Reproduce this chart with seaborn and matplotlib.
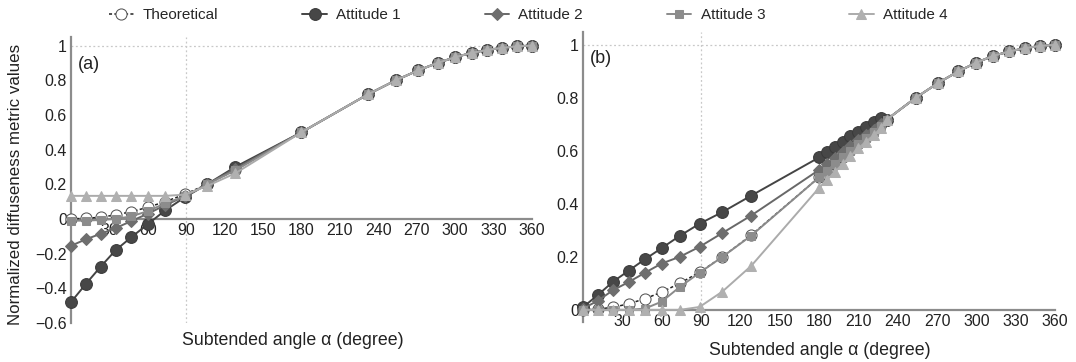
import numpy as np
import pandas as pd
import matplotlib
matplotlib.use("Agg")
import matplotlib.pyplot as plt
import seaborn as sns

# ---------------------------------------------------------------
# Data
# ---------------------------------------------------------------
# angles shared by both panels (deg)
ANG_LEFT = [0, 11.5, 23.1, 34.9, 47.2, 60, 73.7, 88.9, 106.3, 128.3, 180]
ANG_RIGHT = [231.7, 253.7, 271.1, 286.3, 300, 312.8, 325.1, 336.9, 348.5, 360]
# extra dense angles only sampled in panel (b)
ANG_DENSE = [186, 192, 198, 204, 210, 216, 222, 227]

# right-hand tail is the same for every series
TAIL = [0.718, 0.80, 0.857, 0.90, 0.933, 0.958, 0.975, 0.987, 0.996, 1.0]

# panel (a)
A_THEO = [0, 0.003, 0.01, 0.023, 0.042, 0.067, 0.10, 0.142, 0.20, 0.282, 0.50]
A_ATT1 = [-0.48, -0.376, -0.276, -0.18, -0.105, -0.03, 0.05, 0.125, 0.20, 0.30, 0.50]
A_ATT2 = [-0.155, -0.118, -0.086, -0.053, -0.012, 0.03, 0.08, 0.13, 0.20, 0.29, 0.50]
A_ATT3 = [-0.01, -0.01, -0.006, 0.0, 0.015, 0.045, 0.09, 0.13, 0.20, 0.28, 0.50]
A_ATT4 = [0.133, 0.133, 0.133, 0.133, 0.133, 0.133, 0.133, 0.14, 0.19, 0.263, 0.50]

# panel (b): left part, dense part, then tail
B_THEO = [0, 0.003, 0.01, 0.023, 0.042, 0.067, 0.10, 0.142, 0.20, 0.282, 0.50]
B_THEO_D = [0.526, 0.552, 0.578, 0.604, 0.629, 0.654, 0.679, 0.70]
B_ATT1 = [0.01, 0.057, 0.107, 0.148, 0.191, 0.233, 0.279, 0.325, 0.369, 0.431, 0.575]
B_ATT1_D = [0.595, 0.615, 0.635, 0.655, 0.672, 0.69, 0.708, 0.725]
B_ATT2 = [0.005, 0.035, 0.075, 0.105, 0.14, 0.175, 0.20, 0.238, 0.29, 0.356, 0.528]
B_ATT2_D = [0.55, 0.572, 0.595, 0.617, 0.64, 0.66, 0.68, 0.70]
B_ATT3 = [0.0, 0.0, 0.0, 0.0, 0.005, 0.031, 0.086, 0.14, 0.20, 0.28, 0.50]
B_ATT3_D = [0.525, 0.55, 0.575, 0.60, 0.625, 0.65, 0.672, 0.695]
B_ATT4 = [0.0, 0.0, 0.0, 0.0, 0.0, 0.0, 0.0, 0.011, 0.069, 0.166, 0.46]
B_ATT4_D = [0.49, 0.52, 0.55, 0.58, 0.61, 0.635, 0.66, 0.685]

NAMES = ["Theoretical", "Attitude 1", "Attitude 2", "Attitude 3", "Attitude 4"]

# ---------------------------------------------------------------
# Style
# ---------------------------------------------------------------
sns.set_theme(style="white")
plt.rcParams["font.family"] = ["Liberation Sans", "DejaVu Sans"]

STYLE = {
    "Theoretical": dict(color="#222222", marker="o", markerfacecolor="white",
                        markeredgecolor="#555555", linestyle=(0, (2, 1.5)),
                        markersize=8, linewidth=1.1, zorder=2),
    "Attitude 1": dict(color="#444444", marker="o", markerfacecolor="#474747",
                       markeredgecolor="#3a3a3a", linestyle="-",
                       markersize=8.5, linewidth=1.4, zorder=3),
    "Attitude 2": dict(color="#686868", marker="D", markerfacecolor="#6e6e6e",
                       markeredgecolor="#6e6e6e", linestyle="-",
                       markersize=6.5, linewidth=1.4, zorder=4),
    "Attitude 3": dict(color="#8a8a8a", marker="s", markerfacecolor="#8c8c8c",
                       markeredgecolor="#8c8c8c", linestyle="-",
                       markersize=6, linewidth=1.4, zorder=5),
    "Attitude 4": dict(color="#ababab", marker="^", markerfacecolor="#b0b0b0",
                       markeredgecolor="#b0b0b0", linestyle="-",
                       markersize=7, linewidth=1.4, zorder=6),
}

SPINE = "#8c8c8c"
TXT = "#222222"


def draw_series(ax, xs, ys, name):
    df = pd.DataFrame({"angle": xs, "value": ys})
    sns.lineplot(data=df, x="angle", y="value", ax=ax, errorbar=None,
                 label=name, clip_on=False, **STYLE[name])


def style_axes(ax, yticks, ylim, letter):
    ax.set_xlim(0, 360)
    ax.set_ylim(*ylim)
    ax.axhline(1, color="#c8c8c8", linestyle=(0, (1.5, 2)), linewidth=0.9, zorder=0)
    ax.axvline(90, color="#c8c8c8", linestyle=(0, (1.5, 2)), linewidth=0.9, zorder=0)
    for s in ["top", "right"]:
        ax.spines[s].set_visible(False)
    ax.spines["bottom"].set_position(("data", 0))
    for s in ["left", "bottom"]:
        ax.spines[s].set_color(SPINE)
        ax.spines[s].set_linewidth(1.6)
        ax.spines[s].set_zorder(1)
    ax.set_xticks(np.arange(30, 361, 30))
    ax.set_yticks(yticks)
    ax.set_yticklabels([f"{t:g}".replace("-", "\u2212") for t in yticks])
    ax.tick_params(direction="in", length=3, color=SPINE, labelsize=11.5,
                   labelcolor=TXT, pad=3)
    ax.set_xlabel("")
    ax.set_ylabel("")
    ax.text(0.014, 0.935, letter, transform=ax.transAxes, fontsize=13,
            va="top", ha="left", color=TXT)
    ax.get_legend().remove()


fig = plt.figure(figsize=(10.76, 3.62), dpi=100)
ax_a = fig.add_axes([0.066, 0.108, 0.4284, 0.790])
ax_b = fig.add_axes([0.5418, 0.111, 0.4387, 0.8018])

panel_a = [A_THEO, A_ATT1, A_ATT2, A_ATT3, A_ATT4]
for name, vals in zip(NAMES, panel_a):
    draw_series(ax_a, ANG_LEFT + ANG_RIGHT, vals + TAIL, name)

panel_b = [(B_THEO, B_THEO_D), (B_ATT1, B_ATT1_D), (B_ATT2, B_ATT2_D),
           (B_ATT3, B_ATT3_D), (B_ATT4, B_ATT4_D)]
for name, (left, dense) in zip(NAMES, panel_b):
    draw_series(ax_b, ANG_LEFT + ANG_DENSE + ANG_RIGHT, left + dense + TAIL, name)

handles, labels = ax_a.get_legend_handles_labels()

style_axes(ax_a, [-0.6, -0.4, -0.2, 0, 0.2, 0.4, 0.6, 0.8, 1], (-0.6, 1.05), "(a)")
style_axes(ax_b, [0, 0.2, 0.4, 0.6, 0.8, 1], (-0.045, 1.05), "(b)")

fig.text(0.272, 0.06, "Subtended angle \u03b1 (degree)", ha="center", va="center",
         fontsize=12.8, color=TXT)
fig.text(0.762, 0.032, "Subtended angle \u03b1 (degree)", ha="center", va="center",
         fontsize=12.8, color=TXT)
fig.text(0.014, 0.49, "Normalized diffuseness metric values", rotation=90,
         ha="center", va="center", fontsize=12.2, color=TXT)

fig.legend(handles, labels, loc="upper center", bbox_to_anchor=(0.491, 1.015),
           ncol=5, frameon=False, fontsize=11, columnspacing=5.5,
           handlelength=1.6, handletextpad=0.6)

fig.savefig("out.png", dpi=100)
plt.close(fig)
